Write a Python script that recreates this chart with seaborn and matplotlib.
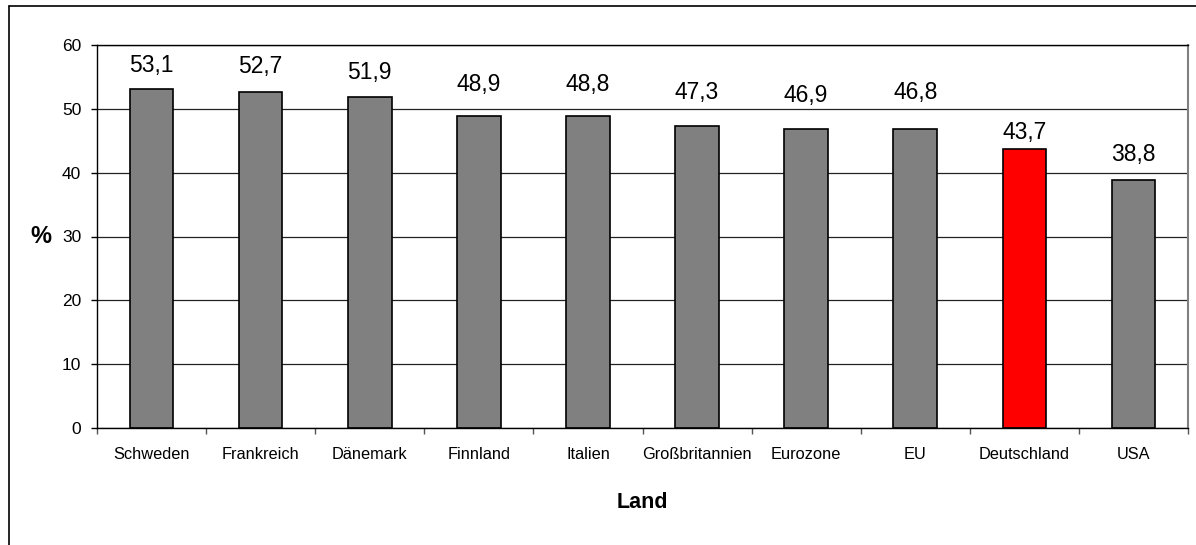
import matplotlib
matplotlib.use("Agg")
import matplotlib.pyplot as plt
import seaborn as sns
import pandas as pd
from matplotlib.lines import Line2D

# ---- data ----
countries = ["Schweden", "Frankreich", "Dänemark", "Finnland", "Italien",
             "Großbritannien", "Eurozone", "EU", "Deutschland", "USA"]
values = [53.1, 52.7, 51.9, 48.9, 48.8, 47.3, 46.9, 46.8, 43.7, 38.8]
value_labels = ["53,1", "52,7", "51,9", "48,9", "48,8", "47,3", "46,9", "46,8", "43,7", "38,8"]
y_ticks = [0, 10, 20, 30, 40, 50, 60]

# ---- style ----
bar_colors = ["#808080"] * 8 + ["#FF0000", "#808080"]
label_offsets_px = [24, 25, 24, 31, 31.5, 34, 33, 37, 17, 26]  # label centre above bar top

W, H, DPI = 1196, 545, 100
sns.set_theme(style="white")
REG = ["Liberation Sans", "DejaVu Sans"]
plt.rcParams["font.family"] = REG
for k in ["text.color", "axes.labelcolor", "xtick.color", "ytick.color"]:
    plt.rcParams[k] = "black"

df = pd.DataFrame({"Land": countries, "Wert": values})

fig = plt.figure(figsize=(W / DPI, H / DPI), dpi=DPI)
fig.patch.set_facecolor("white")
L, R, T, B = 97, 1188, 45, 428
ax = fig.add_axes([L / W, 1 - B / H, (R - L) / W, (B - T) / H])

# gridlines behind bars
ax.set_axisbelow(True)
ax.yaxis.grid(True, color="#222222", linewidth=0.9)
ax.xaxis.grid(False)

sns.barplot(data=df, x="Land", y="Wert", hue="Land", palette=bar_colors,
            legend=False, width=0.4, edgecolor="black", linewidth=1.2,
            saturation=1, ax=ax)

ax.set_ylim(0, 60)
ax.set_xlim(-0.5, len(countries) - 0.5)
ax.set_yticks(y_ticks)
ax.set_yticklabels([str(t) for t in y_ticks], fontsize=12.5)
ax.set_xticks(range(len(countries)))
ax.set_xticklabels(countries, fontsize=11.8)

# minor ticks at category boundaries
ax.set_xticks([i - 0.5 for i in range(len(countries) + 1)], minor=True)
ax.tick_params(axis="x", which="major", length=0, pad=14)
ax.tick_params(axis="x", which="minor", length=4, width=1, color="#555555",
               direction="out", bottom=True)
ax.tick_params(axis="y", which="major", length=4.3, width=1, color="black",
               direction="out", pad=7, left=True)

for side in ["left", "bottom", "top"]:
    ax.spines[side].set_visible(True)
    ax.spines[side].set_color("black")
    ax.spines[side].set_linewidth(1.0)
ax.spines["right"].set_visible(True)
ax.spines["right"].set_color("#808080")
ax.spines["right"].set_linewidth(1.5)

# data labels
for i, (v, lab) in enumerate(zip(values, value_labels)):
    ax.annotate(lab, xy=(i, v), xytext=(0, label_offsets_px[i] * 72 / DPI),
                textcoords="offset points", ha="center", va="center",
                fontsize=16.5, color="black")

# axis titles
ax.set_xlabel("Land", fontsize=15.5, fontweight="bold")
ax.xaxis.label.set_va("center")
ax.xaxis.set_label_coords(0.5, (B - 503) / (B - T))
ax.set_ylabel("%", fontsize=17, fontweight="bold", rotation=0)
ax.yaxis.label.set_va("center")
ax.yaxis.label.set_ha("center")
ax.yaxis.set_label_coords((41 - L) / (R - L), 0.5)

# outer chart border (top and left visible, rest beyond image)
fig.add_artist(Line2D([9 / W, 1.0], [1 - 6 / H, 1 - 6 / H], color="black",
                      linewidth=1.2, transform=fig.transFigure))
fig.add_artist(Line2D([9 / W, 9 / W], [1 - 6 / H, 0.0], color="black",
                      linewidth=1.2, transform=fig.transFigure))

fig.savefig("out.png", dpi=DPI)
